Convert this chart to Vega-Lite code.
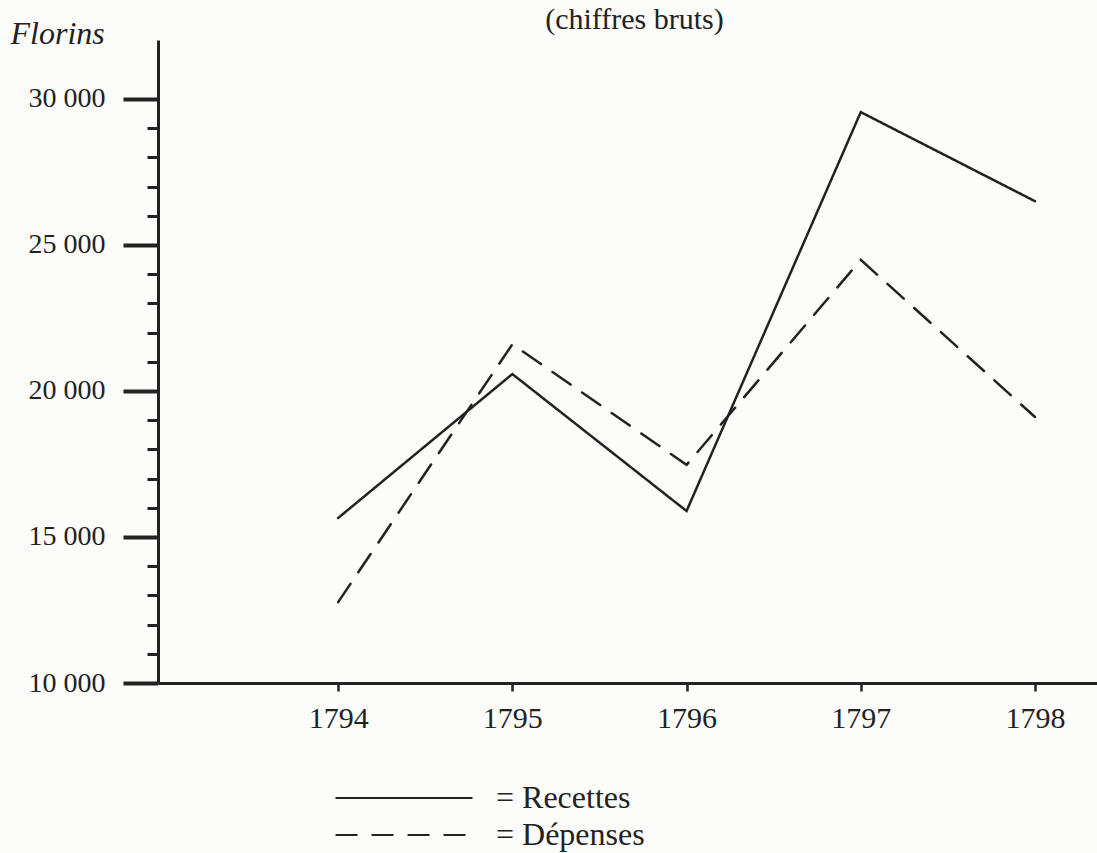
{
  "$schema": "https://vega.github.io/schema/vega-lite/v6.json",
  "width": 939,
  "height": 643,
  "autosize": {"type": "none"},
  "padding": {"left": 158, "top": 40, "right": 0, "bottom": 170},
  "background": "#fcfcfa",
  "title": {
    "text": "(chiffres bruts)",
    "font": "Liberation Serif",
    "fontSize": 30,
    "fontWeight": "normal",
    "color": "#222",
    "anchor": "middle",
    "dx": 7,
    "offset": -18
  },
  "data": {
    "values": [
      {"annee": 1794, "serie": "Recettes", "florins": 15650},
      {"annee": 1795, "serie": "Recettes", "florins": 20580},
      {"annee": 1796, "serie": "Recettes", "florins": 15890},
      {"annee": 1797, "serie": "Recettes", "florins": 29550},
      {"annee": 1798, "serie": "Recettes", "florins": 26500},
      {"annee": 1794, "serie": "Dépenses", "florins": 12770},
      {"annee": 1795, "serie": "Dépenses", "florins": 21600},
      {"annee": 1796, "serie": "Dépenses", "florins": 17470},
      {"annee": 1797, "serie": "Dépenses", "florins": 24490},
      {"annee": 1798, "serie": "Dépenses", "florins": 19110}
    ]
  },
  "mark": {"type": "line", "color": "#222", "strokeWidth": 2.5, "strokeCap": "round"},
  "encoding": {
    "x": {
      "field": "annee",
      "type": "quantitative",
      "scale": {"domain": [1792.966, 1798.356], "nice": false, "zero": false},
      "axis": {
        "title": null,
        "values": [1794, 1795, 1796, 1797, 1798],
        "format": "d",
        "grid": false,
        "domainColor": "#222",
        "domainWidth": 3,
        "tickColor": "#222",
        "tickWidth": 2.5,
        "tickSize": 8,
        "labelFont": "Liberation Serif",
        "labelFontSize": 30,
        "labelColor": "#222",
        "labelPadding": 12
      }
    },
    "y": {
      "field": "florins",
      "type": "quantitative",
      "scale": {"domain": [10000, 32020], "nice": false, "zero": false},
      "axis": {
        "title": "Florins",
        "titleAngle": 0,
        "titleFont": "Liberation Serif",
        "titleFontStyle": "italic",
        "titleFontWeight": "normal",
        "titleFontSize": 32,
        "titleColor": "#222",
        "titleAlign": "left",
        "titleBaseline": "alphabetic",
        "titleX": -148,
        "titleY": 3,
        "values": [10000, 11000, 12000, 13000, 14000, 15000, 16000, 17000, 18000, 19000, 20000, 21000, 22000, 23000, 24000, 25000, 26000, 27000, 28000, 29000, 30000],
        "labelExpr": "datum.value % 5000 === 0 ? replace(format(datum.value, ','), ',', ' ') : ''",
        "grid": false,
        "domainColor": "#222",
        "domainWidth": 3,
        "tickColor": "#222",
        "tickSize": {"condition": {"test": "datum.value % 5000 === 0", "value": 35}, "value": 11},
        "tickWidth": {"condition": {"test": "datum.value % 5000 === 0", "value": 4}, "value": 3},
        "labelFont": "Liberation Serif",
        "labelFontSize": 28,
        "labelColor": "#222",
        "labelPadding": 18
      }
    },
    "strokeDash": {
      "field": "serie",
      "type": "nominal",
      "scale": {"domain": ["Recettes", "Dépenses"], "range": [[1, 0], [22, 14]]},
      "legend": {
        "title": null,
        "orient": "none",
        "legendX": 230,
        "legendY": 742,
        "symbolType": "M-5,0H5",
        "symbolSize": 750,
        "symbolStrokeWidth": 2,
        "symbolStrokeColor": "#222",
        "symbolDash": [20, 17],
        "labelExpr": "'=  ' + datum.label",
        "labelFont": "Liberation Serif",
        "labelFontSize": 32,
        "labelColor": "#222",
        "labelOffset": 76,
        "labelLimit": 400,
        "rowPadding": 5
      }
    }
  },
  "config": {"view": {"stroke": null}}
}
